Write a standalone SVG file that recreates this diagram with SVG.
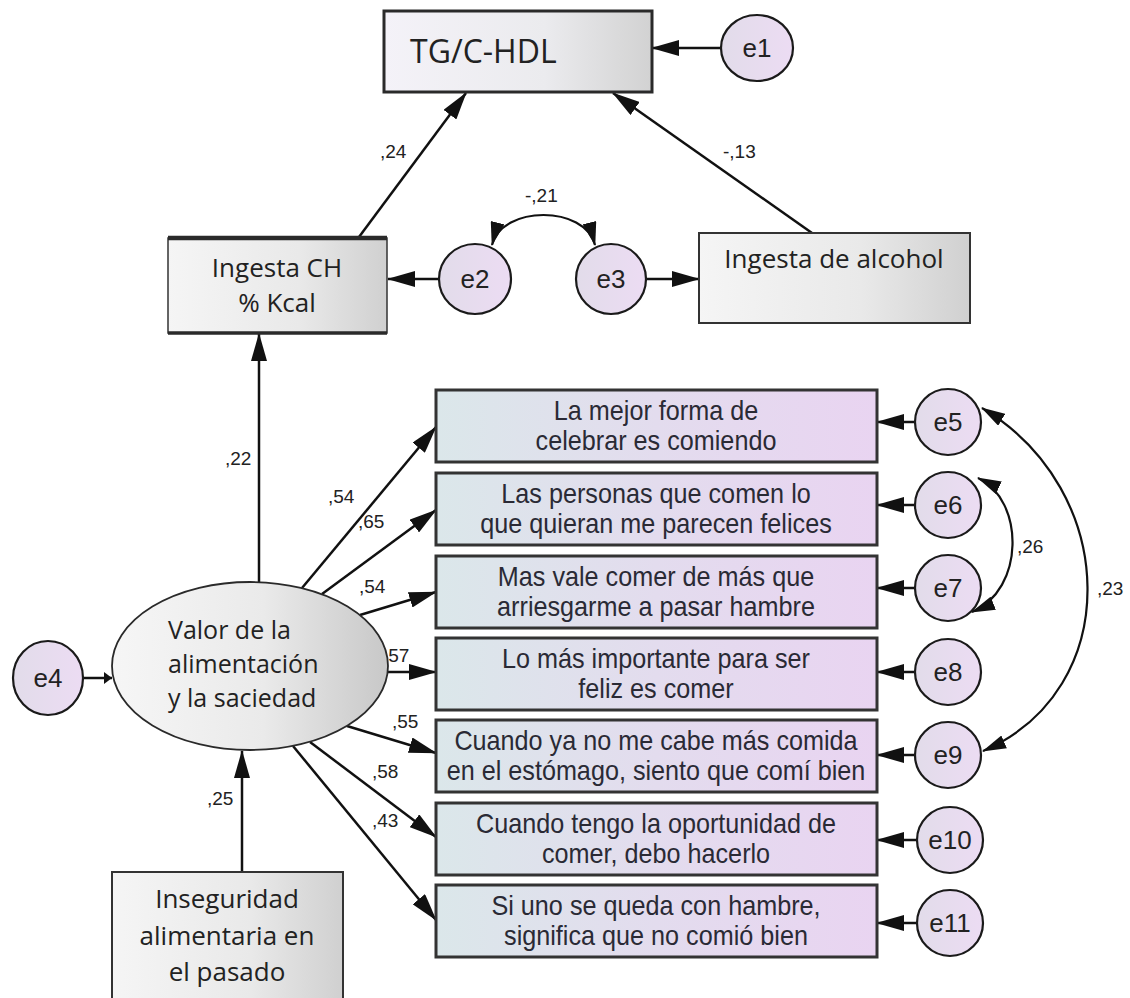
<svg xmlns="http://www.w3.org/2000/svg" width="1130" height="998" viewBox="0 0 1130 998">
<defs>
<linearGradient id="gTG" x1="0" y1="0" x2="1" y2="0"><stop offset="0" stop-color="#f4f2f8"/><stop offset="0.6" stop-color="#ebebee"/><stop offset="1" stop-color="#d2d2d2"/></linearGradient>
<linearGradient id="gGrey" x1="0" y1="0" x2="1" y2="0"><stop offset="0" stop-color="#f5f5f5"/><stop offset="0.6" stop-color="#e9e9e9"/><stop offset="1" stop-color="#d0d0d0"/></linearGradient>
<linearGradient id="gEll" x1="0" y1="0" x2="1" y2="0"><stop offset="0" stop-color="#f6f6f6"/><stop offset="0.55" stop-color="#eaeaea"/><stop offset="1" stop-color="#c8c8c8"/></linearGradient>
<linearGradient id="gInd" x1="0" y1="0" x2="1" y2="0"><stop offset="0" stop-color="#dbe7ea"/><stop offset="0.5" stop-color="#e3dcee"/><stop offset="1" stop-color="#e9d4f1"/></linearGradient>
<linearGradient id="gErr" x1="0" y1="0" x2="1" y2="0"><stop offset="0" stop-color="#e2dcea"/><stop offset="1" stop-color="#ecdcf3"/></linearGradient>
<marker id="ah" viewBox="0 0 28 16" markerWidth="28" markerHeight="16" refX="27" refY="8" markerUnits="userSpaceOnUse" orient="auto"><path d="M0,0 L28,8 L0,16 z" fill="#111"/></marker>
<marker id="ahc" viewBox="0 0 24 14" markerWidth="24" markerHeight="14" refX="23" refY="7" markerUnits="userSpaceOnUse" orient="auto-start-reverse"><path d="M0,0 L24,7 L0,14 z" fill="#111"/></marker>
<marker id="ahs" viewBox="0 0 8 12" markerWidth="8" markerHeight="12" refX="8" refY="6" markerUnits="userSpaceOnUse" orient="auto"><path d="M0,0 L8,6 L0,12 z" fill="#111"/></marker>
<style>
.ln{stroke:#111;stroke-width:2.5;fill:none;marker-end:url(#ah)}
.cv{stroke:#111;stroke-width:2.2;fill:none;marker-start:url(#ahc);marker-end:url(#ahc)}
.lb{font-family:"Liberation Sans",Arial,sans-serif;font-size:19px;fill:#222}
.big{font-family:"Open Sans","Liberation Sans",sans-serif;fill:#222}
.ind{fill:url(#gInd);stroke:#333;stroke-width:3}
.it{font-family:"Liberation Sans",Arial,sans-serif;font-size:28px;fill:#2a2a35;text-anchor:middle}
.err{fill:url(#gErr);stroke:#1a1a1a;stroke-width:2.2}
.et{font-family:"Liberation Sans",Arial,sans-serif;font-size:26px;fill:#222;text-anchor:middle}
.gb{fill:url(#gGrey);stroke:#333;stroke-width:2}
</style>
</defs>
<rect width="1130" height="998" fill="#fff"/>

<g id="connectors">
<line class="ln" x1="721" y1="48" x2="652" y2="48"/>
<line class="ln" x1="359" y1="237" x2="466" y2="93"/>
<text class="lb" x="380" y="158">,24</text>
<line class="ln" x1="812" y1="233" x2="613" y2="93"/>
<text class="lb" x="723" y="158">-,13</text>
<line class="ln" x1="439" y1="279" x2="388" y2="279"/>
<line class="ln" x1="646" y1="279" x2="699" y2="279"/>
<path class="cv" d="M492 245 C502 205 585 205 595 245"/>
<text class="lb" x="525" y="202">-,21</text>
<line class="ln" x1="259" y1="582" x2="259" y2="334"/>
<text class="lb" x="225" y="465">,22</text>
<line class="ln" x1="242" y1="872" x2="242" y2="751"/>
<text class="lb" x="207" y="805">,25</text>
<line x1="83" y1="678" x2="112" y2="678" stroke="#111" stroke-width="2.5" marker-end="url(#ahs)"/>
<line class="ln" x1="302" y1="588" x2="436" y2="427"/>
<text class="lb" x="328" y="503">,54</text>
<line class="ln" x1="322" y1="594" x2="436" y2="510"/>
<text class="lb" x="358" y="528">,65</text>
<line class="ln" x1="360" y1="615" x2="436" y2="592"/>
<text class="lb" x="359" y="593">,54</text>
<line class="ln" x1="387" y1="672" x2="436" y2="672"/>
<text class="lb" x="383" y="662">,57</text>
<line class="ln" x1="347" y1="726" x2="436" y2="753"/>
<text class="lb" x="392" y="728">,55</text>
<line class="ln" x1="310" y1="742" x2="436" y2="837"/>
<text class="lb" x="372" y="778">,58</text>
<line class="ln" x1="293" y1="746" x2="436" y2="920"/>
<text class="lb" x="372" y="827">,43</text>
<line class="ln" x1="915" y1="422" x2="877" y2="422"/>
<line class="ln" x1="915" y1="505" x2="877" y2="505"/>
<line class="ln" x1="915" y1="588" x2="877" y2="588"/>
<line class="ln" x1="915" y1="672" x2="877" y2="672"/>
<line class="ln" x1="915" y1="755" x2="877" y2="755"/>
<line class="ln" x1="916" y1="840" x2="877" y2="840"/>
<line class="ln" x1="916" y1="923" x2="877" y2="923"/>
<path class="cv" d="M978 478 C1025 500 1025 590 972 612"/>
<text class="lb" x="1017" y="553">,26</text>
<path class="cv" d="M982 408 C1120 490 1125 690 983 751"/>
<text class="lb" x="1097" y="595">,23</text>
</g>

<g id="tg">
<rect x="384" y="11" width="268" height="81" fill="url(#gTG)" stroke="#2a2a2a" stroke-width="3"/>
<text class="big" x="410" y="63" font-size="32">TG/C-HDL</text>
</g>
<g id="e1"><ellipse class="err" cx="757" cy="48" rx="36" ry="33"/><text class="et" x="757" y="57">e1</text></g>

<g id="ingesta-ch">
<rect x="168" y="238" width="219" height="95" fill="url(#gGrey)" stroke="#333" stroke-width="1.5"/>
<line x1="168" y1="238" x2="387" y2="238" stroke="#2a2a2a" stroke-width="4.5"/>
<line x1="168" y1="333" x2="387" y2="333" stroke="#2a2a2a" stroke-width="3.5"/>
<text class="big" x="277" y="277" font-size="26" text-anchor="middle">Ingesta CH</text>
<text class="big" x="277" y="312" font-size="26" text-anchor="middle">% Kcal</text>
</g>
<g id="e2"><ellipse class="err" cx="475" cy="279" rx="36" ry="35"/><text class="et" x="475" y="288">e2</text></g>
<g id="e3"><ellipse class="err" cx="611" cy="279" rx="35" ry="35"/><text class="et" x="611" y="288">e3</text></g>
<g id="alcohol">
<rect class="gb" x="699" y="233" width="271" height="90"/>
<text class="big" x="834" y="268" font-size="26" text-anchor="middle">Ingesta de alcohol</text>
</g>

<g id="valor">
<ellipse cx="250" cy="666" rx="138" ry="84" fill="url(#gEll)" stroke="#2a2a2a" stroke-width="1.8"/>
<text class="big" x="168" y="639" font-size="25">Valor de la</text>
<text class="big" x="168" y="673" font-size="25">alimentación</text>
<text class="big" x="168" y="707" font-size="25">y la saciedad</text>
</g>
<g id="e4"><ellipse class="err" cx="48" cy="678" rx="35" ry="37"/><text class="et" x="48" y="687">e4</text></g>

<g id="inseguridad">
<rect class="gb" x="112" y="872" width="231" height="140"/>
<text class="big" x="227" y="908" font-size="26" text-anchor="middle">Inseguridad</text>
<text class="big" x="227" y="945" font-size="26" text-anchor="middle">alimentaria en</text>
<text class="big" x="227" y="981" font-size="26" text-anchor="middle">el pasado</text>
</g>

<g id="item1"><rect class="ind" x="436" y="390" width="441" height="72"/><g transform="translate(656 0) scale(0.9 1)"><text class="it" x="0" y="420">La mejor forma de</text><text class="it" x="0" y="450">celebrar es comiendo</text></g></g>
<g id="item2"><rect class="ind" x="436" y="473" width="441" height="72"/><g transform="translate(656 0) scale(0.9 1)"><text class="it" x="0" y="503">Las personas que comen lo</text><text class="it" x="0" y="533">que quieran me parecen felices</text></g></g>
<g id="item3"><rect class="ind" x="436" y="556" width="441" height="72"/><g transform="translate(656 0) scale(0.9 1)"><text class="it" x="0" y="586">Mas vale comer de más que</text><text class="it" x="0" y="616">arriesgarme a pasar hambre</text></g></g>
<g id="item4"><rect class="ind" x="436" y="638" width="441" height="72"/><g transform="translate(656 0) scale(0.9 1)"><text class="it" x="0" y="668">Lo más importante para ser</text><text class="it" x="0" y="698">feliz es comer</text></g></g>
<g id="item5"><rect class="ind" x="436" y="720" width="441" height="72"/><g transform="translate(656 0) scale(0.9 1)"><text class="it" x="0" y="750">Cuando ya no me cabe más comida</text><text class="it" x="0" y="780">en el estómago, siento que comí bien</text></g></g>
<g id="item6"><rect class="ind" x="436" y="803" width="441" height="72"/><g transform="translate(656 0) scale(0.9 1)"><text class="it" x="0" y="833">Cuando tengo la oportunidad de</text><text class="it" x="0" y="863">comer, debo hacerlo</text></g></g>
<g id="item7"><rect class="ind" x="436" y="885" width="441" height="72"/><g transform="translate(656 0) scale(0.9 1)"><text class="it" x="0" y="915">Si uno se queda con hambre,</text><text class="it" x="0" y="945">significa que no comió bien</text></g></g>

<g id="e5"><ellipse class="err" cx="948" cy="422" rx="33" ry="33"/><text class="et" x="948" y="431">e5</text></g>
<g id="e6"><ellipse class="err" cx="948" cy="505" rx="33" ry="33"/><text class="et" x="948" y="514">e6</text></g>
<g id="e7"><ellipse class="err" cx="948" cy="588" rx="33" ry="33"/><text class="et" x="948" y="597">e7</text></g>
<g id="e8"><ellipse class="err" cx="948" cy="672" rx="33" ry="33"/><text class="et" x="948" y="681">e8</text></g>
<g id="e9"><ellipse class="err" cx="948" cy="755" rx="33" ry="33"/><text class="et" x="948" y="764">e9</text></g>
<g id="e10"><ellipse class="err" cx="950" cy="840" rx="33" ry="33"/><text class="et" x="950" y="849">e10</text></g>
<g id="e11"><ellipse class="err" cx="950" cy="923" rx="33" ry="33"/><text class="et" x="950" y="932">e11</text></g>
</svg>
